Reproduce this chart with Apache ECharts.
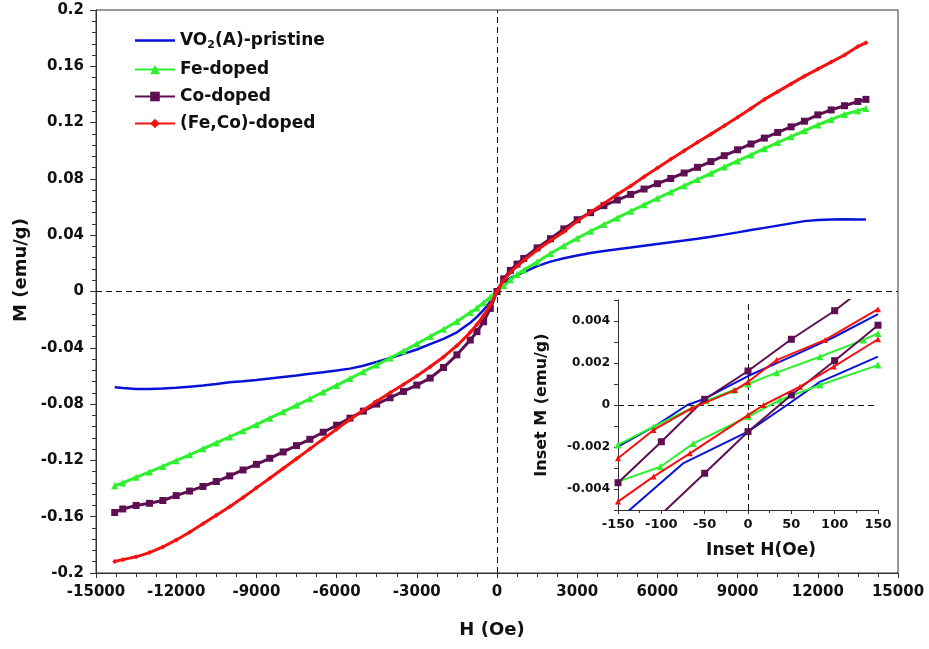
<!DOCTYPE html>
<html>
<head>
<meta charset="utf-8">
<script src="https://cdn.jsdelivr.net/npm/echarts@6/dist/echarts.min.js"></script>
<style>
  html, body { margin: 0; padding: 0; background: #fff; }
  #main { width: 929px; height: 649px; }
</style>
</head>
<body>
<div id="main"></div>
<script>
// field values (Oe) for the main loops
var hMain = [-14300, -14000, -13500, -13000, -12500, -12000, -11500, -11000, -10500, -10000,
    -9500, -9000, -8500, -8000, -7500, -7000, -6500, -6000, -5500, -5000,
    -4500, -4000, -3500, -3000, -2500, -2000, -1500, -1000, -750, -500,
    -250, 0, 250, 500, 750, 1000, 1500, 2000, 2500, 3000,
    3500, 4000, 4500, 5000, 5500, 6000, 6500, 7000, 7500, 8000,
    8500, 9000, 9500, 10000, 10500, 11000, 11500, 12000, 12500, 13000,
    13500, 13800];
var mPristine = [-0.0680, -0.0686, -0.0692, -0.0693, -0.0690, -0.0684, -0.0676, -0.0668, -0.0657, -0.0645,
    -0.0637, -0.0628, -0.0618, -0.0607, -0.0596, -0.0584, -0.0573, -0.0562, -0.0548, -0.0527,
    -0.0500, -0.0472, -0.0443, -0.0412, -0.0374, -0.0336, -0.0290, -0.0222, -0.0180, -0.0130,
    -0.0072, 0, 0.0060, 0.0095, 0.0118, 0.0138, 0.0180, 0.0212, 0.0236, 0.0256,
    0.0274, 0.0288, 0.0300, 0.0312, 0.0325, 0.0338, 0.0350, 0.0362, 0.0375, 0.0389,
    0.0404, 0.0420, 0.0437, 0.0452, 0.0468, 0.0484, 0.0500, 0.0508, 0.0512, 0.0514,
    0.0512, 0.0511];
var mFe = [-0.1380, -0.1360, -0.1320, -0.1282, -0.1243, -0.1202, -0.1160, -0.1118, -0.1076, -0.1033,
    -0.0990, -0.0946, -0.0900, -0.0855, -0.0809, -0.0762, -0.0714, -0.0667, -0.0619, -0.0570,
    -0.0522, -0.0473, -0.0423, -0.0372, -0.0320, -0.0268, -0.0213, -0.0150, -0.0117, -0.0080,
    -0.0040, 0, 0.0042, 0.0083, 0.0120, 0.0152, 0.0210, 0.0270, 0.0325, 0.0378,
    0.0428, 0.0476, 0.0523, 0.0570, 0.0616, 0.0662, 0.0707, 0.0751, 0.0795, 0.0840,
    0.0884, 0.0928, 0.0970, 0.1015, 0.1058, 0.1100, 0.1142, 0.1183, 0.1222, 0.1258,
    0.1285, 0.1300];
var mCo = [-0.1570, -0.1545, -0.1520, -0.1505, -0.1485, -0.1450, -0.1418, -0.1385, -0.1350, -0.1310,
    -0.1268, -0.1228, -0.1185, -0.1140, -0.1095, -0.1050, -0.1000, -0.0950, -0.0900, -0.0850,
    -0.0800, -0.0755, -0.0710, -0.0665, -0.0615, -0.0540, -0.0450, -0.0345, -0.0285, -0.0215,
    -0.0120, 0, 0.0090, 0.0150, 0.0195, 0.0235, 0.0310, 0.0375, 0.0445, 0.0510,
    0.0560, 0.0610, 0.0650, 0.0690, 0.0728, 0.0766, 0.0803, 0.0842, 0.0882, 0.0923,
    0.0965, 0.1007, 0.1048, 0.1090, 0.1130, 0.1170, 0.1210, 0.1255, 0.1290, 0.1320,
    0.1350, 0.1365];
var mFeCo = [-0.1918, -0.1905, -0.1885, -0.1855, -0.1815, -0.1765, -0.1710, -0.1650, -0.1590, -0.1530,
    -0.1463, -0.1395, -0.1327, -0.1258, -0.1188, -0.1118, -0.1048, -0.0978, -0.0910, -0.0843,
    -0.0780, -0.0720, -0.0660, -0.0600, -0.0535, -0.0465, -0.0385, -0.0290, -0.0235, -0.0170,
    -0.0095, 0, 0.0080, 0.0135, 0.0180, 0.0220, 0.0295, 0.0360, 0.0425, 0.0500,
    0.0565, 0.0625, 0.0690, 0.0750, 0.0815, 0.0878, 0.0940, 0.1000, 0.1060, 0.1118,
    0.1177, 0.1238, 0.1300, 0.1365, 0.1420, 0.1475, 0.1530, 0.1580, 0.1630, 0.1680,
    0.1740, 0.1768];

// inset: low field loops, two branches each
var pUpH = [150, 100, 50, 0, -50, -70, -105, -150];
var pUpM = [0.00433, 0.00325, 0.0023, 0.00138, 0.0003, 0, -0.00095, -0.00198];
var pDnH = [-150, -134, -75, 0, 45, 83, 100, 150];
var pDnM = [-0.0055, -0.0049, -0.00278, -0.00127, 0, 0.0011, 0.0014, 0.0023];
var fUpH = [150, 133, 83, 33, 0, -17, -48, -109, -150];
var fUpM = [0.00341, 0.0031, 0.0023, 0.00154, 0.0010, 0.0007, 0.0002, -0.00103, -0.0019];
var fDnH = [-150, -101, -63, 0, 37, 83, 150];
var fDnM = [-0.00365, -0.00294, -0.00183, -0.00056, 0.00024, 0.00095, 0.0019];
var cUpH = [150, 100, 50, 0, -50, -100, -150];
var cUpM = [0.0061, 0.00449, 0.00313, 0.00162, 0.00027, -0.00175, -0.0037];
var cDnH = [-150, -100, -50, 0, 50, 100, 150];
var cDnM = [-0.0072, -0.0052, -0.00325, -0.00127, 0.00048, 0.00211, 0.0038];
var rUpH = [150, 89, 33, 0, -15, -65, -109, -150];
var rUpM = [0.00456, 0.0031, 0.00214, 0.0011, 0.00071, -0.00016, -0.00119, -0.00254];
var rDnH = [-150, -109, -67, 0, 18, 60, 99, 150];
var rDnM = [-0.0046, -0.00341, -0.0023, -0.00048, 0, 0.00087, 0.00183, 0.00313];

var names = ['VO2(A)-pristine', 'Fe-doped', 'Co-doped', '(Fe,Co)-doped'];
var colors = ['#0712d6', '#2ff02f', '#5e0f52', '#f21212'];
var FONT = 'DejaVu Sans';

function pairs(h, m) {
    return h.map(function (v, i) { return [v, m[i]]; });
}

var dashed = {
    silent: true, symbol: 'none', label: {show: false},
    lineStyle: {type: [6, 4], color: '#111', width: 1},
    emphasis: {disabled: true},
    data: [{xAxis: 0}, {yAxis: 0}]
};

function mainSeries(i, m, sym, size, w) {
    return {
        name: names[i], type: 'line', data: pairs(hMain, m),
        xAxisIndex: 0, yAxisIndex: 0,
        symbol: sym, symbolSize: size, showSymbol: sym !== 'none',
        lineStyle: {width: w, color: colors[i]},
        itemStyle: {color: colors[i]},
        z: 2 + i
    };
}
function insetSeries(i, h, m, sym, size) {
    return {
        name: names[i], type: 'line', data: pairs(h, m),
        xAxisIndex: 1, yAxisIndex: 1,
        symbol: sym, symbolSize: size, showSymbol: sym !== 'none',
        lineStyle: {width: 2, color: colors[i]},
        itemStyle: {color: colors[i]},
        clip: true, z: 10 + i
    };
}

var s0 = mainSeries(0, mPristine, 'none', 0, 2.5);
s0.markLine = dashed;
var in0 = insetSeries(0, pUpH, pUpM, 'none', 0);
in0.markLine = dashed;

var tickLabel = {fontFamily: FONT, fontWeight: 'bold', color: '#111'};

var option = {
    animation: false,
    backgroundColor: '#fff',
    grid: [
        {left: 96, right: 31, top: 10, bottom: 76, show: true, borderColor: '#333', borderWidth: 1},
        {left: 618, right: 51, top: 300, bottom: 139, show: true, backgroundColor: '#fff', borderWidth: 0}
    ],
    legend: {
        data: [
            {name: names[0], icon: 'path://M0,0L40,0L40,2.4L0,2.4Z'},
            names[1], names[2], names[3]
        ],
        orient: 'vertical', left: 129, top: 27,
        itemWidth: 40, itemHeight: 12, itemGap: 10,
        textStyle: {
            fontFamily: FONT, fontWeight: 'bold', fontSize: 17, color: '#111',
            rich: {
                sub: {fontFamily: FONT, fontWeight: 'bold', fontSize: 11, color: '#111',
                      verticalAlign: 'bottom', padding: [10, 0, 0, 0]}
            }
        },
        formatter: function (n) {
            return n === 'VO2(A)-pristine' ? 'VO{sub|2}(A)-pristine' : n;
        }
    },
    xAxis: [
        {
            gridIndex: 0, type: 'value', min: -15000, max: 15000, interval: 3000,
            axisLine: {onZero: false, lineStyle: {color: '#333'}},
            axisTick: {length: 5, lineStyle: {color: '#333'}},
            minorTick: {show: true, splitNumber: 4, length: 4, lineStyle: {color: '#333'}},
            splitLine: {show: false},
            axisLabel: Object.assign({fontSize: 15, margin: 12, formatter: function (v) { return String(v); }}, tickLabel)
        },
        {
            gridIndex: 1, type: 'value', min: -150, max: 150, interval: 50,
            axisLine: {onZero: false, lineStyle: {color: '#333'}},
            axisTick: {length: 4, lineStyle: {color: '#333'}},
            minorTick: {show: true, splitNumber: 2, length: 3, lineStyle: {color: '#333'}},
            splitLine: {show: false},
            axisLabel: Object.assign({fontSize: 13, margin: 8, formatter: function (v) { return String(v); }}, tickLabel)
        }
    ],
    yAxis: [
        {
            gridIndex: 0, type: 'value', min: -0.2, max: 0.2, interval: 0.04,
            axisLine: {onZero: false, lineStyle: {color: '#333'}},
            axisTick: {length: 6, lineStyle: {color: '#333'}},
            minorTick: {show: true, splitNumber: 5, length: 4, lineStyle: {color: '#333'}},
            splitLine: {show: false},
            axisLabel: Object.assign({fontSize: 15, margin: 12, formatter: function (v) { return String(+v.toFixed(2)); }}, tickLabel)
        },
        {
            gridIndex: 1, type: 'value', min: -0.005, max: 0.005, interval: 0.001,
            axisLine: {onZero: false, lineStyle: {color: '#333'}},
            axisTick: {length: 4, lineStyle: {color: '#333'}},
            splitLine: {show: false},
            axisLabel: Object.assign({fontSize: 12, margin: 8, formatter: function (v) {
                var k = Math.round(v * 1000);
                if (k % 2 !== 0) return '';
                return k === 0 ? '0' : (k / 1000).toFixed(3);
            }}, tickLabel)
        }
    ],
    graphic: [
        {type: 'text', x: 21, y: 270, rotation: Math.PI / 2,
         style: {text: 'M (emu/g)', font: 'bold 18px "DejaVu Sans"', fill: '#111', textAlign: 'center', textVerticalAlign: 'middle'}},
        {type: 'text', x: 492, y: 630,
         style: {text: 'H (Oe)', font: 'bold 18px "DejaVu Sans"', fill: '#111', textAlign: 'center', textVerticalAlign: 'middle'}},
        {type: 'text', x: 542, y: 405, rotation: Math.PI / 2,
         style: {text: 'Inset M (emu/g)', font: 'bold 16px "DejaVu Sans"', fill: '#111', textAlign: 'center', textVerticalAlign: 'middle'}},
        {type: 'text', x: 761, y: 551,
         style: {text: 'Inset H(Oe)', font: 'bold 17px "DejaVu Sans"', fill: '#111', textAlign: 'center', textVerticalAlign: 'middle'}}
    ],
    series: [
        s0,
        mainSeries(1, mFe, 'triangle', 7, 3),
        mainSeries(2, mCo, 'rect', 7, 3),
        mainSeries(3, mFeCo, 'diamond', 5, 3),
        in0,
        insetSeries(0, pDnH, pDnM, 'none', 0),
        insetSeries(1, fUpH, fUpM, 'triangle', 7),
        insetSeries(1, fDnH, fDnM, 'triangle', 7),
        insetSeries(2, cUpH, cUpM, 'rect', 7),
        insetSeries(2, cDnH, cDnM, 'rect', 7),
        insetSeries(3, rUpH, rUpM, 'triangle', 6),
        insetSeries(3, rDnH, rDnM, 'triangle', 6)
    ]
};

var chart = echarts.init(document.getElementById('main'));
chart.setOption(option);
</script>
</body>
</html>
